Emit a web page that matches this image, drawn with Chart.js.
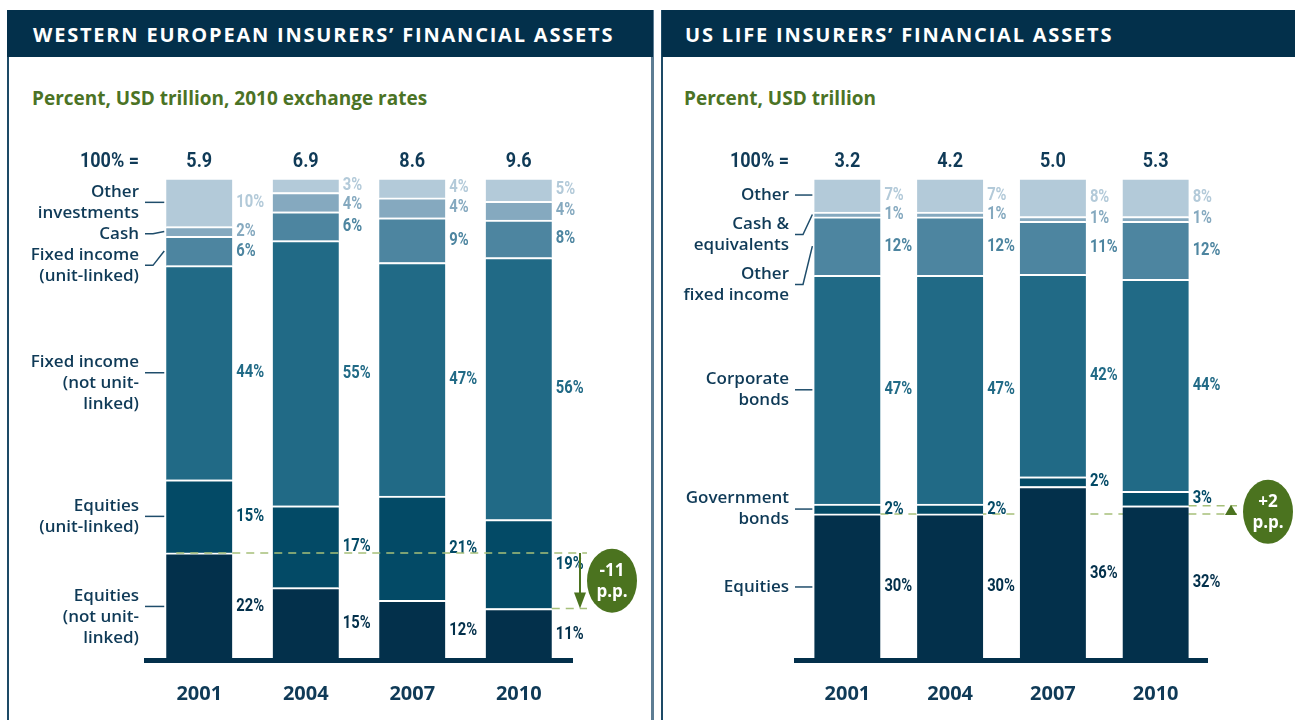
<!DOCTYPE html>
<html>
<head>
<meta charset="utf-8">
<script src="https://cdn.jsdelivr.net/npm/chart.js@4.4.1/dist/chart.umd.min.js"></script>
<style>
  body { margin: 0; width: 1295px; height: 720px; overflow: hidden; background: #fff; font-family: 'Open Sans', sans-serif; }
  .hdr { position: absolute; top: 10px; height: 47px; line-height: 50px; background: #03304b; color: #fff;
         font-weight: 700; font-size: 20px; letter-spacing: 1.8px; white-space: nowrap; z-index: 2; }
  .rule { position: absolute; top: 10px; height: 710px; }
  .sub { position: absolute; top: 86px; font-size: 19px; line-height: 24px; font-weight: 700; color: #4b7325; }
  canvas { position: absolute; top: 130px; }
</style>
</head>
<body>
<div class="rule" style="left:7px;width:2px;background:#1d4a66"></div>
<div class="rule" style="left:651px;width:3px;background:#5d7d93"></div>
<div class="rule" style="left:661px;width:2px;background:#1d4a66"></div>
<div class="hdr" style="left:7px;width:620px;padding-left:26px">WESTERN EUROPEAN INSURERS’ FINANCIAL ASSETS</div>
<div class="hdr" style="left:662px;width:610px;padding-left:23px">US LIFE INSURERS’ FINANCIAL ASSETS</div>
<div class="sub" style="left:32px">Percent, USD trillion, 2010 exchange rates</div>
<div class="sub" style="left:684px">Percent, USD trillion</div>
<canvas id="euChart" width="642" height="598" style="left:9px"></canvas>
<canvas id="usChart" width="632" height="598" style="left:663px"></canvas>

<script>
const years = ['2001', '2004', '2007', '2010'];

// Western European insurers, bottom of the stack first
const euTotals = ['5.9', '6.9', '8.6', '9.6'];
const euNames = [
  ['Equities', '(not unit-', 'linked)'],
  ['Equities', '(unit-linked)'],
  ['Fixed income', '(not unit-', 'linked)'],
  ['Fixed income', '(unit-linked)'],
  ['Cash'],
  ['Other', 'investments']
];
const euEquitiesNotUL = [22, 15, 12, 11];
const euEquitiesUL = [15, 17, 21, 19];
const euFixedNotUL = [44, 55, 47, 56];
const euFixedUL = [6, 6, 9, 8];
const euCash = [2, 4, 4, 4];
const euOther = [10, 3, 4, 5];
const euDelta = ['-11', 'p.p.'];

// US life insurers, bottom of the stack first
const usTotals = ['3.2', '4.2', '5.0', '5.3'];
const usNames = [
  ['Equities'],
  ['Government', 'bonds'],
  ['Corporate', 'bonds'],
  ['Other', 'fixed income'],
  ['Cash &', 'equivalents'],
  ['Other']
];
const usEquities = [30, 30, 36, 32];
const usGovBonds = [2, 2, 2, 3];
const usCorpBonds = [47, 47, 42, 44];
const usOtherFixed = [12, 12, 11, 12];
const usCash = [1, 1, 1, 1];
const usOther = [7, 7, 8, 8];
const usDelta = ['+2', 'p.p.'];

const barColors = ['#03304b', '#034a66', '#216a86', '#4d85a0', '#85a9bf', '#b3cad9'];
const TEXT = '#0f3a57';
const GREEN = '#4b731f';

// printed shares are rounded, so each bar is stacked back to 100
function toHundred(series) {
  const sums = years.map((_, i) => series.reduce((s, a) => s + a[i], 0));
  return series.map(a => a.map((v, i) => v / sums[i] * 100));
}

function squeezed(ctx, text, x, y, align, sx) {
  ctx.save();
  ctx.translate(x, y);
  ctx.scale(sx, 1);
  ctx.textAlign = align;
  ctx.fillText(text, 0, 0);
  ctx.restore();
}

function bubble(ctx, cx, cy, lines) {
  ctx.save();
  ctx.fillStyle = GREEN;
  ctx.beginPath();
  ctx.ellipse(cx, cy, 25, 32, 0, 0, Math.PI * 2);
  ctx.fill();
  ctx.fillStyle = '#fff';
  ctx.font = 'bold 17px "Open Sans"';
  ctx.textAlign = 'center';
  ctx.textBaseline = 'middle';
  ctx.fillText(lines[0], cx, cy - 10);
  ctx.fillText(lines[1], cx, cy + 11);
  ctx.restore();
}

function dashed(ctx, x1, x2, y) {
  ctx.save();
  ctx.strokeStyle = '#a6c07a';
  ctx.lineWidth = 1.5;
  ctx.setLineDash([8, 6]);
  ctx.beginPath();
  ctx.moveTo(x1, y);
  ctx.lineTo(x2, y);
  ctx.stroke();
  ctx.restore();
}

const panelDecor = {
  id: 'panelDecor',
  beforeDatasetsDraw(chart, args, opts) {
    if (opts.marker !== 'up') return;
    const ctx = chart.ctx, area = chart.chartArea;
    const base = chart.getDatasetMeta(0).data;
    const a = base[0], b = base[base.length - 1];
    dashed(ctx, a.x + a.width / 2, area.right + 30, a.y);
    dashed(ctx, b.x + b.width / 2, area.right + 30, b.y);
  },
  afterDatasetsDraw(chart, args, opts) {
    const ctx = chart.ctx, area = chart.chartArea;
    const metas = chart.data.datasets.map((d, i) => chart.getDatasetMeta(i));

    ctx.save();
    ctx.textBaseline = 'middle';

    // 100% = totals row
    ctx.fillStyle = TEXT;
    ctx.font = 'bold 20px Roboto';
    const ty = area.top - 16;
    squeezed(ctx, '100% =', area.left - 7, ty, 'right', 0.9);
    opts.totals.forEach((t, j) => squeezed(ctx, t, metas[0].data[j].x, ty, 'center', 0.9));

    // share labels right of each bar
    ctx.font = 'bold 18px Roboto';
    for (let j = 0; j < years.length; j++) {
      let prev = -Infinity;
      for (let k = metas.length - 1; k >= 0; k--) {
        const bar = metas[k].data[j];
        const cy = Math.max((bar.y + bar.base) / 2, prev + 19);
        prev = cy;
        ctx.fillStyle = barColors[k];
        squeezed(ctx, opts.shares[k][j] + '%', bar.x + bar.width / 2 + 4, cy, 'left', 0.82);
      }
    }

    // category names with leader lines to the first bar
    ctx.font = '600 17px "Open Sans"';
    ctx.textAlign = 'right';
    ctx.strokeStyle = '#1f4d6b';
    ctx.lineWidth = 1.5;
    const lh = 21;
    let bottom = -Infinity;
    for (let k = metas.length - 1; k >= 0; k--) {
      const lines = opts.names[k];
      const bar = metas[k].data[0];
      const seg = (bar.y + bar.base) / 2;
      const off = (Math.min(lines.length, 2) - 1) * lh / 2;
      const top = Math.max(seg - off - lh / 2, bottom + opts.gap);
      bottom = top + lines.length * lh;
      const anchor = top + lh / 2 + off;
      ctx.fillStyle = TEXT;
      lines.forEach((s, i) => ctx.fillText(s, area.left - 7, top + lh / 2 + i * lh));
      const x0 = area.left - 1, x1 = x0 + 8, x2 = bar.x - bar.width / 2 - 2;
      ctx.beginPath();
      if (Math.abs(anchor - seg) < 1.5) {
        ctx.moveTo(x0, seg);
        ctx.lineTo(x2, seg);
      } else {
        ctx.moveTo(x0, anchor);
        ctx.lineTo(x1, anchor);
        ctx.lineTo(x2, seg);
      }
      ctx.stroke();
    }
    ctx.restore();

    // change marker on the equity share
    const base = metas[0].data;
    const a = base[0], b = base[base.length - 1];
    if (opts.marker === 'down') {
      dashed(ctx, a.x - a.width / 2 + 10, area.right + 15, a.y);
      dashed(ctx, b.x + b.width / 2, area.right + 15, b.y);
      const xa = area.right + 8;
      ctx.save();
      ctx.strokeStyle = GREEN;
      ctx.fillStyle = GREEN;
      ctx.lineWidth = 2;
      ctx.beginPath();
      ctx.moveTo(xa, a.y);
      ctx.lineTo(xa, b.y - 12);
      ctx.stroke();
      ctx.beginPath();
      ctx.moveTo(xa - 6, b.y - 16);
      ctx.lineTo(xa + 6, b.y - 16);
      ctx.lineTo(xa, b.y);
      ctx.closePath();
      ctx.fill();
      ctx.restore();
      bubble(ctx, area.right + 40, (a.y + b.y) / 2, opts.delta);
    } else {
      const xa = area.right + 24;
      ctx.save();
      ctx.fillStyle = GREEN;
      ctx.beginPath();
      ctx.moveTo(xa - 6, a.y + 1);
      ctx.lineTo(xa + 6, a.y + 1);
      ctx.lineTo(xa, b.y - 1);
      ctx.closePath();
      ctx.fill();
      ctx.restore();
      bubble(ctx, area.right + 61, (a.y + b.y) / 2 + 2, opts.delta);
    }
  }
};

function makeChart(id, series, names, totals, delta, marker, pad, gap) {
  const stacked = toHundred(series);
  return new Chart(document.getElementById(id), {
    type: 'bar',
    data: {
      labels: years,
      datasets: stacked.map((d, k) => ({
        label: names[k].join(' '),
        data: d,
        backgroundColor: barColors[k],
        borderColor: '#ffffff',
        borderWidth: { top: 2, bottom: 0, left: 0, right: 0 },
        borderSkipped: false,
        barThickness: 66
      }))
    },
    options: {
      responsive: false,
      animation: false,
      events: [],
      layout: { padding: pad },
      plugins: {
        legend: { display: false },
        tooltip: { enabled: false },
        panelDecor: { shares: series, names: names, totals: totals, delta: delta, marker: marker, gap: gap }
      },
      scales: {
        x: {
          stacked: true,
          grid: { display: true, drawOnChartArea: false, drawTicks: false, color: 'rgba(0,0,0,0)' },
          border: { display: true, color: '#03304b', width: 5 },
          ticks: { color: TEXT, padding: 22, font: { family: 'Open Sans', weight: 'bold', size: 20 } }
        },
        y: { stacked: true, display: false, min: 0, max: 100 }
      }
    },
    plugins: [panelDecor]
  });
}

makeChart('euChart',
  [euEquitiesNotUL, euEquitiesUL, euFixedNotUL, euFixedUL, euCash, euOther],
  euNames, euTotals, euDelta, 'down',
  { left: 137, right: 79, top: 48, bottom: 0 }, 0);

makeChart('usChart',
  [usEquities, usGovBonds, usCorpBonds, usOtherFixed, usCash, usOther],
  usNames, usTotals, usDelta, 'up',
  { left: 133, right: 88, top: 48, bottom: 0 }, 8);
</script>
</body>
</html>
